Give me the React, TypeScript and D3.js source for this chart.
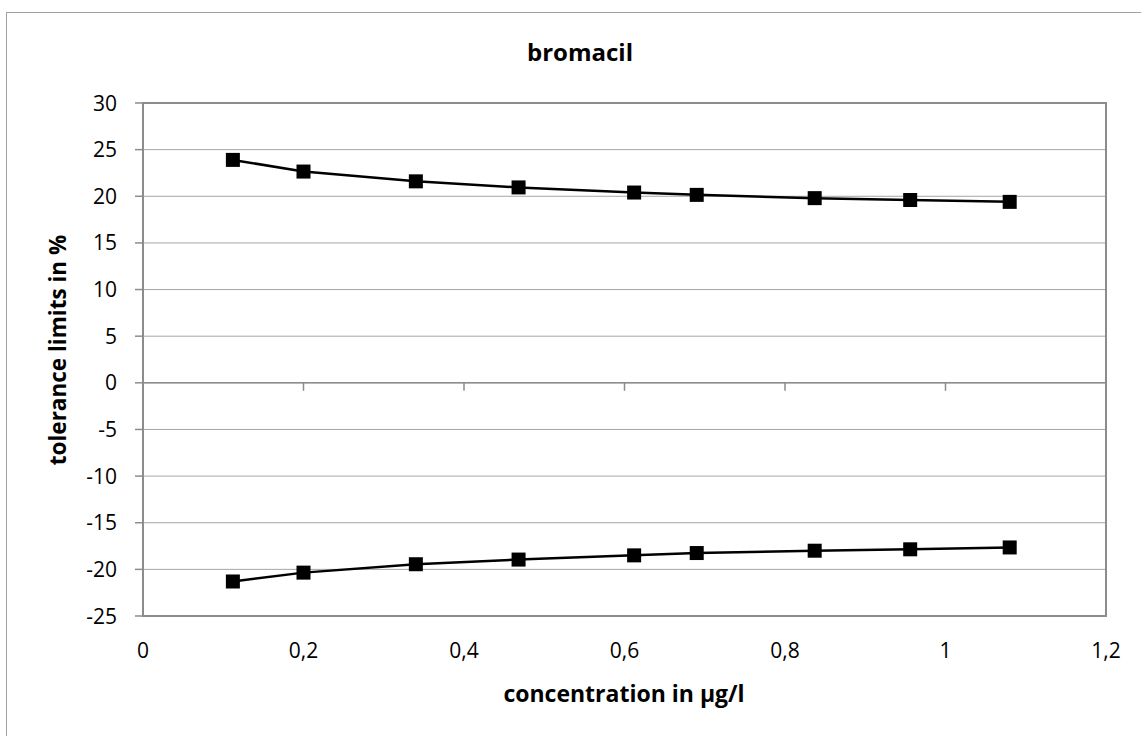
import React from 'react';
import * as d3 from 'd3';

// concentration in µg/l
const concentrations = [0.112, 0.2, 0.34, 0.468, 0.612, 0.69, 0.837, 0.956, 1.08];
// upper / lower tolerance limits in %
const upperLimits = [23.9, 22.65, 21.6, 20.95, 20.4, 20.15, 19.8, 19.6, 19.4];
const lowerLimits = [-21.3, -20.35, -19.45, -18.95, -18.5, -18.25, -18.0, -17.85, -17.65];

const xTicks = [0, 0.2, 0.4, 0.6, 0.8, 1, 1.2];
const yTicks = [-25, -20, -15, -10, -5, 0, 5, 10, 15, 20, 25, 30];

const W = 1141;
const H = 736;
const PLOT = { left: 143, right: 1106, top: 103, bottom: 616 };
const FONT = "'Open Sans', 'Noto Sans', sans-serif";
const GRID = '#a6a6a6';
const AXIS = '#8c8c8c';

const fmt = (v: number) => String(v).replace('.', ',');

function App() {
  const x = d3.scaleLinear().domain([0, 1.2]).range([PLOT.left, PLOT.right]);
  const y = d3.scaleLinear().domain([-25, 30]).range([PLOT.bottom, PLOT.top]);

  const line = d3
    .line<number>()
    .x((_, i) => x(concentrations[i]))
    .y((d) => y(d));

  const series = [upperLimits, lowerLimits];

  return (
    <svg width={W} height={H} style={{ position: 'absolute', left: 0, top: 0 }}>
      <rect x={0} y={0} width={W} height={H} fill="#fff" />
      {/* chart frame (cropped on the right and bottom) */}
      <rect x={6.5} y={12.5} width={W + 20} height={H + 20} fill="none" stroke="#a0a0a0" strokeWidth={1} />

      <text x={580} y={61} textAnchor="middle" fontFamily={FONT} fontWeight="bold" fontSize={24}>
        bromacil
      </text>

      {/* horizontal gridlines */}
      {yTicks.map((t) => (
        <line key={`g${t}`} x1={PLOT.left} x2={PLOT.right} y1={y(t)} y2={y(t)} stroke={GRID} strokeWidth={1} />
      ))}

      {/* plot border */}
      <rect
        x={PLOT.left}
        y={PLOT.top}
        width={PLOT.right - PLOT.left}
        height={PLOT.bottom - PLOT.top}
        fill="none"
        stroke={AXIS}
        strokeWidth={2}
      />

      {/* y axis ticks and labels */}
      {yTicks.map((t) => (
        <g key={`y${t}`}>
          <line x1={PLOT.left - 8} x2={PLOT.left} y1={y(t)} y2={y(t)} stroke={AXIS} strokeWidth={1.5} />
          <text
            x={117}
            y={y(t)}
            dy="0.36em"
            textAnchor="end"
            fontFamily={FONT}
            fontSize={21}
            fill="#000"
          >
            {t}
          </text>
        </g>
      ))}

      {/* x axis at zero */}
      <line x1={PLOT.left} x2={PLOT.right} y1={y(0)} y2={y(0)} stroke={AXIS} strokeWidth={1.5} />
      {xTicks.map((t) => (
        <g key={`x${t}`}>
          <line x1={x(t)} x2={x(t)} y1={y(0)} y2={y(0) + 8} stroke={AXIS} strokeWidth={1.5} />
          <text x={x(t)} y={658} textAnchor="middle" fontFamily={FONT} fontSize={21} fill="#000">
            {fmt(t)}
          </text>
        </g>
      ))}

      {/* series */}
      {series.map((s, si) => (
        <g key={`s${si}`}>
          <path d={line(s) ?? ''} fill="none" stroke="#000" strokeWidth={2.5} />
          {s.map((v, i) => (
            <rect
              key={`m${si}-${i}`}
              x={x(concentrations[i]) - 7}
              y={y(v) - 7}
              width={14}
              height={14}
              fill="#000"
            />
          ))}
        </g>
      ))}

      <text x={624} y={702} textAnchor="middle" fontFamily={FONT} fontWeight="bold" fontSize={23}>
        concentration in µg/l
      </text>
      <text
        transform="translate(66, 350) rotate(-90)"
        textAnchor="middle"
        fontFamily={FONT}
        fontWeight="bold"
        fontSize={22.5}
      >
        tolerance limits in %
      </text>
    </svg>
  );
}

export default App;
